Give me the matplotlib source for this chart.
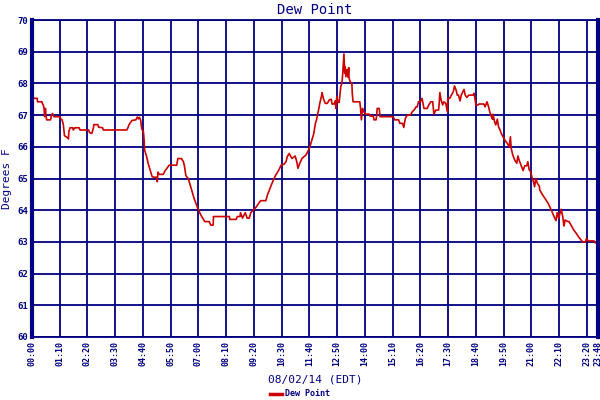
import matplotlib
matplotlib.use("Agg")
import matplotlib.pyplot as plt

# minutes after midnight, 08/02/14 (EDT)
minutes = [0, 2, 13, 14, 25, 27, 30, 32, 34, 35, 37, 47, 49, 52, 55, 71, 72, 76, 79, 82,
           88, 92, 93, 96, 103, 104, 108, 119, 121, 143, 145, 151, 155, 156, 166, 168, 178, 180, 239, 242,
           245, 252, 262, 266, 269, 271, 274, 277, 281, 283, 284, 289, 293, 298, 303, 308, 315, 316, 318, 321,
           331, 336, 341, 346, 365, 368, 377, 382, 385, 388, 394, 399, 404, 409, 414, 419, 426, 431, 436, 447,
           451, 457, 458, 498, 499, 515, 518, 525, 526, 531, 538, 543, 548, 552, 558, 565, 572, 577, 590, 594,
           599, 604, 609, 615, 622, 629, 636, 641, 644, 649, 653, 656, 664, 668, 671, 674, 681, 691, 698, 701,
           706, 711, 715, 718, 720, 723, 726, 730, 732, 735, 740, 745, 750, 755, 757, 762, 765, 767, 769, 772,
           775, 779, 782, 784, 787, 789, 790, 792, 795, 797, 799, 800, 804, 807, 808, 810, 827, 829, 831, 834,
           836, 839, 841, 851, 853, 861, 863, 868, 869, 871, 876, 878, 911, 915, 925, 928, 935, 938, 942, 947,
           955, 959, 964, 969, 972, 975, 980, 984, 989, 997, 1001, 1006, 1011, 1014, 1019, 1026, 1029, 1032, 1036, 1039,
           1044, 1048, 1049, 1054, 1058, 1063, 1066, 1070, 1073, 1076, 1080, 1083, 1087, 1090, 1093, 1097, 1102, 1113, 1115, 1118,
           1120, 1125, 1128, 1140, 1143, 1148, 1152, 1155, 1159, 1162, 1163, 1167, 1170, 1174, 1177, 1181, 1184, 1189, 1194, 1199,
           1204, 1207, 1209, 1213, 1218, 1223, 1226, 1229, 1233, 1236, 1239, 1243, 1248, 1251, 1254, 1258, 1261, 1265, 1268, 1271,
           1275, 1280, 1281, 1286, 1291, 1297, 1302, 1307, 1312, 1317, 1322, 1325, 1329, 1332, 1335, 1339, 1342, 1345, 1352, 1355,
           1362, 1367, 1372, 1379, 1384, 1389, 1396, 1399, 1403, 1418, 1421, 1428]
dew_point = [67.63, 67.53, 67.53, 67.42, 67.42, 67.35, 67.26, 66.95, 67.21, 67.0, 66.85, 66.85, 67.0, 67.05, 66.95, 66.95, 66.88, 66.85, 66.7, 66.35,
             66.3, 66.25, 66.48, 66.6, 66.6, 66.53, 66.6, 66.6, 66.53, 66.53, 66.45, 66.42, 66.6, 66.7, 66.7, 66.62, 66.6, 66.53, 66.53, 66.6,
             66.7, 66.83, 66.85, 66.94, 66.88, 66.93, 66.85, 66.56, 66.48, 66.2, 65.9, 65.7, 65.48, 65.27, 65.06, 65.04, 65.04, 64.9, 65.2, 65.13,
             65.13, 65.25, 65.33, 65.42, 65.42, 65.63, 65.63, 65.53, 65.37, 65.1, 65.0, 64.8, 64.58, 64.37, 64.2, 64.03, 63.85, 63.74, 63.64, 63.64,
             63.53, 63.53, 63.8, 63.8, 63.71, 63.71, 63.8, 63.8, 63.92, 63.75, 63.92, 63.75, 63.75, 63.92, 64.0, 64.09, 64.22, 64.3, 64.3, 64.48,
             64.64, 64.8, 64.95, 65.11, 65.25, 65.43, 65.45, 65.53, 65.69, 65.79, 65.69, 65.63, 65.71, 65.53, 65.32, 65.43, 65.63, 65.74, 65.9, 66.0,
             66.21, 66.42, 66.74, 66.85, 67.0, 67.16, 67.37, 67.58, 67.71, 67.53, 67.37, 67.37, 67.48, 67.5, 67.35, 67.35, 67.45, 67.21, 67.58, 67.4,
             67.4, 67.9, 68.0, 68.32, 68.93, 68.32, 68.53, 68.21, 68.44, 68.2, 68.5, 68.16, 68.02, 68.02, 67.69, 67.42, 67.42, 67.21, 66.85, 67.21,
             67.1, 67.1, 67.03, 67.03, 66.97, 66.97, 66.85, 66.85, 66.94, 67.21, 67.21, 66.95, 66.95, 66.85, 66.85, 66.74, 66.74, 66.61, 66.9, 67.0,
             67.0, 67.1, 67.16, 67.26, 67.26, 67.42, 67.42, 67.53, 67.21, 67.21, 67.32, 67.42, 67.42, 67.03, 67.16, 67.16, 67.71, 67.48, 67.32, 67.42,
             67.37, 67.1, 67.53, 67.53, 67.63, 67.74, 67.92, 67.79, 67.63, 67.63, 67.45, 67.63, 67.74, 67.81, 67.63, 67.56, 67.63, 67.63, 67.69, 67.48,
             67.32, 67.32, 67.35, 67.35, 67.26, 67.42, 67.26, 67.1, 66.95, 66.87, 67.03, 66.79, 66.69, 66.87, 66.63, 66.53, 66.42, 66.3, 66.19, 66.11,
             66.0, 66.32, 65.95, 65.74, 65.58, 65.48, 65.71, 65.58, 65.45, 65.35, 65.25, 65.4, 65.4, 65.53, 65.29, 65.21, 65.06, 64.9, 64.74, 65.0,
             64.85, 64.76, 64.64, 64.53, 64.43, 64.32, 64.22, 64.09, 63.95, 63.8, 63.67, 63.92, 63.74, 63.9, 64.03, 63.8, 63.5, 63.69, 63.64, 63.64,
             63.48, 63.37, 63.29, 63.16, 63.08, 63.0, 63.0, 63.11, 63.03, 63.03, 62.97, 62.97]

x_ticks = list(range(0, 1401, 70)) + [1428]
x_labels = ["%02d:%02d" % (m // 60, m % 60) for m in x_ticks]
y_ticks = list(range(60, 71))

navy = "#000080"
red = "#cc0000"
mono = "DejaVu Sans Mono"

fig = plt.figure(figsize=(6, 4), dpi=100)
ax = fig.add_axes([32 / 600, 1 - 337 / 400, 566 / 600, 317 / 400])

ax.plot(minutes, dew_point, color=red, linewidth=1.2, label="Dew Point")

ax.set_xlim(0, 1428)
ax.set_ylim(60, 70)
ax.set_xticks(x_ticks)
ax.set_xticklabels(x_labels, rotation=90, fontsize=6, family=mono, fontweight="bold", color=navy)
ax.set_yticks(y_ticks)
ax.set_yticklabels([str(v) for v in y_ticks], fontsize=6.5, family=mono, fontweight="bold", color=navy)
ax.tick_params(length=0, pad=3)
ax.grid(True, color=navy, linewidth=1.3)
ax.set_axisbelow(True)

for side in ["left", "right"]:
    ax.spines[side].set_color(navy)
    ax.spines[side].set_linewidth(3)
for side in ["top", "bottom"]:
    ax.spines[side].set_color(navy)
    ax.spines[side].set_linewidth(1.3)

ax.set_title("Dew Point", fontsize=10, family=mono, color=navy, pad=4)
ax.set_ylabel("Degrees F", fontsize=8, family=mono, color=navy, labelpad=4)
ax.set_xlabel("08/02/14 (EDT)", fontsize=8, family=mono, color=navy, labelpad=6)

leg = fig.legend(loc="lower center", bbox_to_anchor=(0.5, -0.015), frameon=False,
                 handlelength=1.5, handletextpad=0.4, prop={"family": mono, "size": 6, "weight": "bold"})
for t in leg.get_texts():
    t.set_color(navy)
for h in leg.get_lines():
    h.set_linewidth(2.5)

fig.savefig("out.png", dpi=100, facecolor="white")
